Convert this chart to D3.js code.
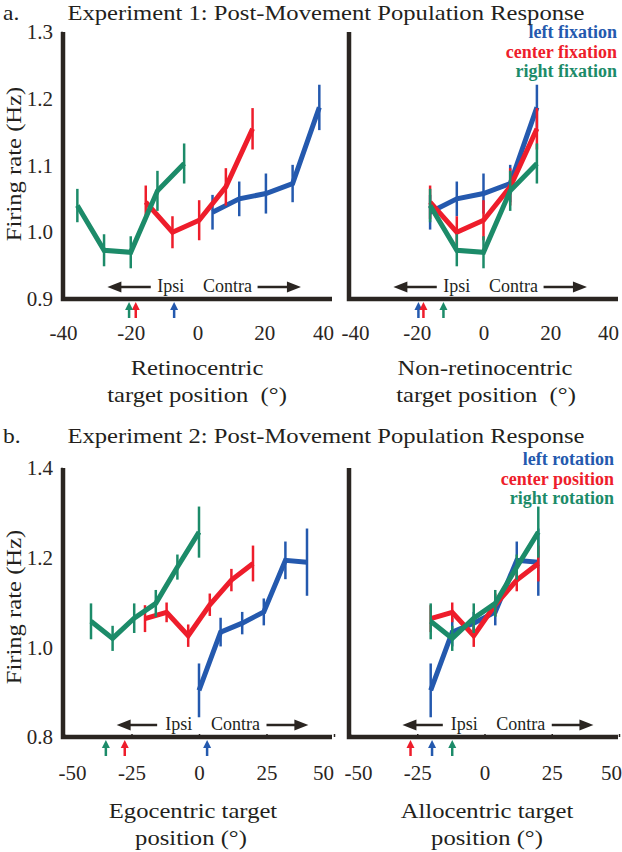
<!DOCTYPE html>
<html>
<head>
<meta charset="utf-8">
<script src="https://cdn.jsdelivr.net/npm/d3@7"></script>
<style>
  body { margin: 0; background: #fff; }
  text { font-family: "Liberation Serif", "Times New Roman", serif; fill: #231f1c; }
</style>
</head>
<body>
<svg id="fig" width="622" height="852"></svg>
<script>
// tick values
const exp1XTicks = [-40, -20, 0, 20, 40];
const exp1YTicks = [0.9, 1.0, 1.1, 1.2, 1.3];
const exp2XTicks = [-50, -25, 0, 25, 50];
const exp2YTicks = [0.8, 1.0, 1.2, 1.4];

// Experiment 1 firing rate (Hz) + error bars: left / center / right fixation
const exp1Left = [1.03, 1.05, 1.058, 1.073, 1.187];
const exp1LeftErr = [0.026, 0.026, 0.03, 0.028, 0.034];
const exp1Center = [1.045, 1.0, 1.018, 1.068, 1.155];
const exp1CenterErr = [0.025, 0.024, 0.03, 0.028, 0.031];
const exp1Right = [1.04, 0.973, 0.97, 1.062, 1.103];
const exp1RightErr = [0.025, 0.024, 0.024, 0.03, 0.03];

// Experiment 1 target positions (deg)
const retinoLeftX = [4.5, 12.5, 20.5, 28.5, 36.5];
const retinoCenterX = [-15.5, -7.5, 0.5, 8.5, 16.5];
const retinoRightX = [-36, -28, -20, -12, -4];
const nonRetinoX = [-16, -8, 0, 8, 16];
// fixation markers (left, center, right)
const retinoFix = [-7, -18.5, -20.5];
const nonRetinoFix = [-19.5, -18, -12];

// Experiment 2 firing rate (Hz) + error bars: left rotation / center / right rotation
const exp2Left = [0.904, 1.034, 1.054, 1.079, 1.194, 1.19];
const exp2LeftErr = [0.06, 0.032, 0.025, 0.03, 0.042, 0.075];
const exp2Center = [1.064, 1.078, 1.026, 1.095, 1.15, 1.187];
const exp2CenterErr = [0.03, 0.022, 0.025, 0.025, 0.025, 0.04];
const exp2Right = [1.058, 1.02, 1.065, 1.098, 1.179, 1.257];
const exp2RightErr = [0.04, 0.028, 0.033, 0.03, 0.028, 0.057];

// Experiment 2 target positions (deg)
const egoLeftX = [0, 8, 16, 24, 32, 40];
const egoCenterX = [-20, -12, -4, 4, 12, 20];
const egoRightX = [-40, -32, -24, -16, -8, 0];
const alloX = [-20, -12, -4, 4, 12, 20];
const egoFix = [3, -27.5, -34.5];
const alloFix = [-19.5, -27.5, -12];

const exp1Labels = ["left fixation", "center fixation", "right fixation"];
const exp2Labels = ["left rotation", "center position", "right rotation"];

const colors = ["#2459ae", "#ee1d2b", "#1c8b69"];
const ink = "#2a2521";

const svg = d3.select("#fig");

// horizontal stretch helper, the original lettering is a bit wider than Times
function label(x, y, str, size, opts = {}) {
  let t = svg.append("text")
    .attr("font-size", size)
    .attr("text-anchor", opts.anchor || "middle")
    .style("white-space", "pre")
    .text(str);
  let sx = opts.stretch || 1;
  let rot = opts.rotate ? ` rotate(${opts.rotate})` : "";
  t.attr("transform", `translate(${x},${y})${rot} scale(${sx},1)`);
  if (opts.bold) t.attr("font-weight", "bold");
  if (opts.fill) t.style("fill", opts.fill);
  return t;
}

function drawPanel(p) {
  let x = d3.scaleLinear().domain(p.xDomain).range(p.xRange);
  let y = d3.scaleLinear().domain(p.yDomain).range(p.yRange);
  let g = svg.append("g");
  let yBase = y(p.yDomain[0]);

  /* axes */
  let xAxis = d3.axisBottom(x)
    .tickValues(p.xTicks)
    .tickSizeInner(p.innerTicks ? -3 : 0)
    .tickSizeOuter(0)
    .tickFormat(d => String(d));
  let ax = g.append("g")
    .attr("transform", `translate(0,${yBase})`)
    .call(xAxis);
  ax.select(".domain").remove();
  ax.selectAll("line").attr("stroke", ink).attr("stroke-width", 1.5);
  let last = p.xTicks.length - 1;
  ax.selectAll("text")
    .attr("y", p.tickLabelDy).attr("dy", 0)
    .attr("x", (d, i) => i == 0 ? p.edgeNudge[0] : i == last ? p.edgeNudge[1] : 0)
    .attr("font-size", 21)
    .attr("font-family", '"Liberation Serif", serif')
    .style("fill", ink);

  if (p.showY) {
    let yAxis = d3.axisLeft(y)
      .tickValues(p.yTicks)
      .tickSizeInner(2)
      .tickSizeOuter(0)
      .tickPadding(8)
      .tickFormat(d3.format(".1f"));
    let ay = g.append("g")
      .attr("transform", `translate(${p.xRange[0] - 1},0)`)
      .call(yAxis);
    ay.select(".domain").remove();
    ay.selectAll("line").attr("stroke", ink).attr("stroke-width", 1.5);
    ay.selectAll("text")
      .attr("font-size", 21)
      .attr("font-family", '"Liberation Serif", serif')
      .style("fill", ink);
  }

  // axis lines
  g.append("path")
    .attr("d", `M${p.xRange[0] - 1},${y(p.yDomain[1])}V${yBase}H${p.axisEnd}`)
    .attr("fill", "none")
    .attr("stroke", ink)
    .attr("stroke-width", 4.5);

  /* Ipsi / Contra annotation */
  let ay0 = yBase - 12;
  let ic = p.ipsiContra;
  g.append("line")
    .attr("x1", x(ic.left[0]) + 12).attr("x2", x(ic.left[1]))
    .attr("y1", ay0).attr("y2", ay0)
    .attr("stroke", ink).attr("stroke-width", 2.5);
  g.append("path")
    .attr("d", `M${x(ic.left[0])},${ay0}l14,-5.5v11z`)
    .attr("fill", ink);
  g.append("line")
    .attr("x1", x(ic.right[0])).attr("x2", x(ic.right[1]) - 12)
    .attr("y1", ay0).attr("y2", ay0)
    .attr("stroke", ink).attr("stroke-width", 2.5);
  g.append("path")
    .attr("d", `M${x(ic.right[1])},${ay0}l-14,-5.5v11z`)
    .attr("fill", ink);
  g.append("text").attr("x", x(ic.ipsi)).attr("y", yBase - 7)
    .attr("text-anchor", "middle").attr("font-size", 18).text("Ipsi");
  g.append("text").attr("x", x(ic.contra)).attr("y", yBase - 7)
    .attr("text-anchor", "middle").attr("font-size", 18).text("Contra");

  /* fixation arrows under the axis */
  p.fix.forEach((f, i) => {
    let fx = x(f);
    g.append("line")
      .attr("x1", fx).attr("x2", fx)
      .attr("y1", yBase + 9).attr("y2", yBase + 19)
      .attr("stroke", colors[i]).attr("stroke-width", 2.5);
    g.append("path")
      .attr("d", `M${fx},${yBase + 3}l4,8h-8z`)
      .attr("fill", colors[i]);
  });

  /* series */
  let line = d3.line()
    .x(d => x(d.x))
    .y(d => y(d.v));

  p.series.forEach((s, i) => {
    let pts = s.xs.map((xv, j) => ({ x: xv, v: s.vals[j], e: s.errs[j] }));
    g.append("path")
      .datum(pts)
      .attr("d", line)
      .attr("fill", "none")
      .attr("stroke", colors[i])
      .attr("stroke-width", 5)
      .attr("stroke-linejoin", "miter");
    g.selectAll(null)
      .data(pts)
      .enter()
      .append("line")
      .attr("x1", d => x(d.x)).attr("x2", d => x(d.x))
      .attr("y1", d => y(d.v - d.e)).attr("y2", d => y(d.v + d.e))
      .attr("stroke", colors[i])
      .attr("stroke-width", 2.5);
  });
}

/* a. Experiment 1 */
let exp1Series = (xsL, xsC, xsR) => [
  { xs: xsL, vals: exp1Left, errs: exp1LeftErr },
  { xs: xsC, vals: exp1Center, errs: exp1CenterErr },
  { xs: xsR, vals: exp1Right, errs: exp1RightErr }
];
let exp1IC = { left: [-27, -14], ipsi: -8, contra: 9, right: [18, 31] };

drawPanel({
  xDomain: [-40, 40], xRange: [64, 331], axisEnd: 332,
  yDomain: [0.9, 1.3], yRange: [299, 32],
  xTicks: exp1XTicks, yTicks: exp1YTicks, showY: true, innerTicks: false,
  tickLabelDy: 41, edgeNudge: [-1, -8], ipsiContra: exp1IC, fix: retinoFix,
  series: exp1Series(retinoLeftX, retinoCenterX, retinoRightX)
});
drawPanel({
  xDomain: [-40, 40], xRange: [350, 617], axisEnd: 618,
  yDomain: [0.9, 1.3], yRange: [299, 32],
  xTicks: exp1XTicks, yTicks: exp1YTicks, showY: false, innerTicks: false,
  tickLabelDy: 41, edgeNudge: [5, -9], ipsiContra: exp1IC, fix: nonRetinoFix,
  series: exp1Series(nonRetinoX, nonRetinoX, nonRetinoX)
});

/* b. Experiment 2 */
let exp2Series = (xsL, xsC, xsR) => [
  { xs: xsL, vals: exp2Left, errs: exp2LeftErr },
  { xs: xsC, vals: exp2Center, errs: exp2CenterErr },
  { xs: xsR, vals: exp2Right, errs: exp2RightErr }
];
let exp2IC = { left: [-30.5, -15.5], ipsi: -7.5, contra: 13.5, right: [25, 40.5] };

drawPanel({
  xDomain: [-50, 50], xRange: [64, 334], axisEnd: 332,
  yDomain: [0.8, 1.4], yRange: [737, 468],
  xTicks: exp2XTicks, yTicks: exp2YTicks, showY: true, innerTicks: true,
  tickLabelDy: 43, edgeNudge: [8, -11], ipsiContra: exp2IC, fix: egoFix,
  series: exp2Series(egoLeftX, egoCenterX, egoRightX)
});
drawPanel({
  xDomain: [-50, 50], xRange: [350, 619], axisEnd: 618,
  yDomain: [0.8, 1.4], yRange: [737, 468],
  xTicks: exp2XTicks, yTicks: exp2YTicks, showY: false, innerTicks: true,
  tickLabelDy: 43, edgeNudge: [8, -8], ipsiContra: exp2IC, fix: alloFix,
  series: exp2Series(alloX, alloX, alloX)
});

/* titles and labels */
const S = 1.12;
label(3, 20, "a.", 21, { anchor: "start", stretch: S });
label(326, 20, "Experiment 1: Post-Movement Population Response", 22, { stretch: S });
label(3, 443, "b.", 21, { anchor: "start", stretch: S });
label(326, 443, "Experiment 2: Post-Movement Population Response", 22, { stretch: S });

label(21, 164, "Firing rate (Hz)", 22, { rotate: -90, stretch: S });
label(21, 607, "Firing rate (Hz)", 22, { rotate: -90, stretch: S });

label(197, 375, "Retinocentric", 22, { stretch: S });
label(197, 402, "target position  (°)", 22, { stretch: S });
label(485, 375, "Non-retinocentric", 22, { stretch: S });
label(486, 402, "target position  (°)", 22, { stretch: S });

label(193, 818, "Egocentric target", 22, { stretch: S });
label(191, 845, "position (°)", 22, { stretch: S });
label(487, 818, "Allocentric target", 22, { stretch: S });
label(487, 845, "position (°)", 22, { stretch: S });

/* legends */
const leg1Y = [38, 58, 77];
const leg2Y = [465, 485, 504];
exp1Labels.forEach((t, i) => label(617, leg1Y[i], t, 18, { anchor: "end", bold: true, fill: colors[i] }));
exp2Labels.forEach((t, i) => label(614, leg2Y[i], t, 18, { anchor: "end", bold: true, fill: colors[i] }));
</script>
</body>
</html>
